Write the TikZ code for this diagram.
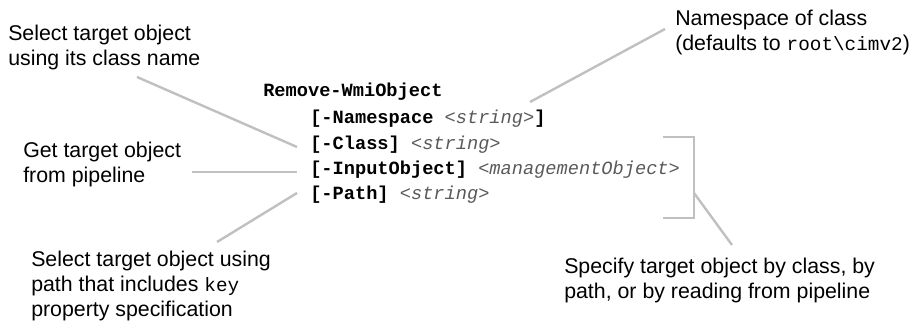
\documentclass[tikz,border=0pt]{standalone}
\usepackage{fontspec}
\setmainfont{Liberation Sans}
\setmonofont{Liberation Mono}
\definecolor{callgray}{RGB}{192,192,192}
\definecolor{arggray}{RGB}{90,90,90}
\tikzset{
  note/.style={anchor=base west,inner sep=0pt,align=left,
    font=\fontsize{16}{19}\selectfont},
  codeline/.style={anchor=base west,inner sep=0pt,
    font=\fontsize{14}{19}\selectfont\ttfamily},
  callout/.style={draw=callgray,line width=1.8pt}
}
\newcommand{\argtext}[1]{{\color{arggray}\itshape<#1>}}
\newcommand{\notett}[1]{{\fontsize{14.5}{19}\selectfont\ttfamily #1}}
\begin{document}
\begin{tikzpicture}[x=0.75pt,y=-0.75pt]
\useasboundingbox (0,0) rectangle (922,331);
% syntax block
\node[codeline] (cmd) at (263,97) {\textbf{Remove-WmiObject}};
\node[codeline] (ns) at (310,124) {\textbf{[-Namespace} \argtext{string}\textbf{]}};
\node[codeline] (cls) at (310,150) {\textbf{[-Class]} \argtext{string}};
\node[codeline] (inobj) at (310,175) {\textbf{[-InputObject]} \argtext{managementObject}};
\node[codeline] (path) at (310,200) {\textbf{[-Path]} \argtext{string}};
% notes (placed by the baseline of their last line)
\node[note] (selcls) at (8,66) {Select target object\\using its class name};
\node[note] (getpipe) at (23,183) {Get target object\\from pipeline};
\node[note] (selpath) at (31,317) {Select target object using\\path that includes \notett{key}\\property specification};
\node[note] (nsnote) at (675,51) {Namespace of class\\(defaults to \notett{root\textbackslash cimv2})};
\node[note] (spec) at (564,299) {Specify target object by class, by\\path, or by reading from pipeline};
% connector ends
\coordinate (selclsA) at (137,77);
\coordinate (clsB) at (297,147);
\coordinate (getpipeA) at (192,172);
\coordinate (inobjB) at (297,172);
\coordinate (pathB) at (297,193);
\coordinate (selpathA) at (217,242);
\coordinate (nsB) at (530,102);
\coordinate (nsnoteA) at (665,29);
\coordinate (brTop) at (663,137);
\coordinate (brBot) at (663,218);
\coordinate (brMid) at (694,193);
\coordinate (specA) at (732,245);
% callouts
\draw[callout] (selclsA) -- (clsB);
\draw[callout] (getpipeA) -- (inobjB);
\draw[callout] (pathB) -- (selpathA);
\draw[callout] (nsB) -- (nsnoteA);
\draw[callout] (brTop) -- (brTop -| brMid) -- (brBot -| brMid) -- (brBot);
\draw[callout] (brMid) -- (specA);
\end{tikzpicture}
\end{document}
